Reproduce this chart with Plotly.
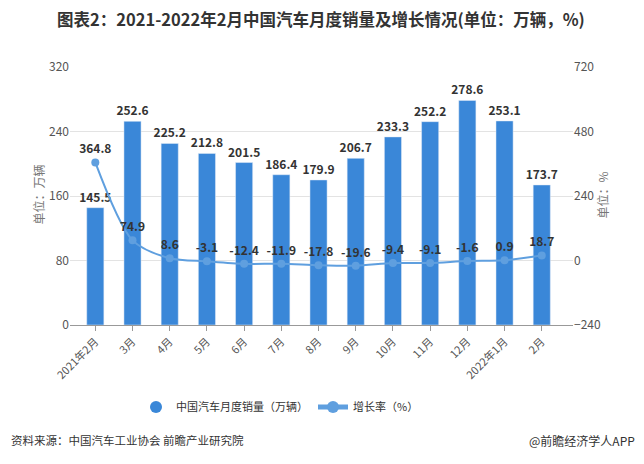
import plotly.graph_objects as go

months = ["2021年2月", "3月", "4月", "5月", "6月", "7月", "8月", "9月", "10月", "11月", "12月", "2022年1月", "2月"]
sales = [145.5, 252.6, 225.2, 212.8, 201.5, 186.4, 179.9, 206.7, 233.3, 252.2, 278.6, 253.1, 173.7]
growth = [364.8, 74.9, 8.6, -3.1, -12.4, -11.9, -17.8, -19.6, -9.4, -9.1, -1.6, 0.9, 18.7]
left_ticks = [0, 80, 160, 240, 320]
right_ticks = [-240, 0, 240, 480, 720]

BAR = "#3a87d8"
LINE = "#5f9fdf"
FONT = "Noto Sans CJK SC"
W, H = 644, 464
OFF = 8  # page offset of the figure inside the browser window
L, R, T, B = 70 - OFF, 573 - OFF, 67 - OFF, 325 - OFF

def px(x):
    return (x - OFF - L) / (R - L)

def py(y):
    return (B - (y - OFF)) / (B - T)

xi = list(range(len(months)))

fig = go.Figure()
fig.add_trace(go.Bar(
    x=xi, y=sales, marker_color=BAR, width=0.46, showlegend=False,
    text=sales, texttemplate="<b>%{y:.1f}</b>", textposition="outside",
    constraintext="none",
    textfont=dict(size=12, color="#333333", family=FONT), cliponaxis=False,
    name="中国汽车月度销量（万辆）"))
fig.add_trace(go.Scatter(
    x=[None], y=[None], mode="markers", name="中国汽车月度销量（万辆）",
    marker=dict(symbol="circle", size=12, color=BAR)))
fig.add_trace(go.Scatter(
    x=xi, y=growth, yaxis="y2", mode="lines+markers+text", name="增长率（%）",
    line=dict(color=LINE, width=2, shape="spline", smoothing=0.8),
    marker=dict(size=8, color=LINE),
    text=growth, texttemplate="<b>%{y:.1f}</b>", textposition="top center",
    textfont=dict(size=12, color="#333333", family=FONT), cliponaxis=False))

fig.update_layout(
    width=W, height=H,
    margin=dict(l=L, r=W - R, t=T, b=H - B, autoexpand=False),
    paper_bgcolor="white", plot_bgcolor="white",
    font=dict(family=FONT, color="#555555", size=12),
    xaxis=dict(range=[-0.68, 12.84], tickmode="array", tickvals=xi, ticktext=months,
               tickangle=-45, showgrid=False, showline=True, linecolor="#999999",
               ticks="outside", ticklen=5, tickcolor="#999999", automargin=False,
               tickfont=dict(size=11, color="#555555")),
    yaxis=dict(range=[0, 320], tickvals=left_ticks, showgrid=True, gridcolor="#e3e3e3",
               zeroline=False, tickfont=dict(size=12, color="#555555"), ticks="",
               showline=False, automargin=False),
    yaxis2=dict(range=[-240, 720], tickvals=right_ticks, overlaying="y", side="right",
                showgrid=False, zeroline=False, automargin=False,
                tickfont=dict(size=12, color="#555555")),
    legend=dict(orientation="h", x=px(136), xanchor="left", y=py(407), yanchor="middle",
                font=dict(size=11, color="#333333"), itemsizing="constant", itemwidth=30),
    bargap=0.5,
)

fig.add_annotation(text="<b>图表2：2021-2022年2月中国汽车月度销量及增长情况(单位：万辆，%)</b>",
                   xref="paper", yref="paper", x=px(321), y=py(19), xanchor="center",
                   yanchor="middle", showarrow=False,
                   font=dict(size=16.5, color="#333333", family=FONT))
fig.add_annotation(text="单位：万辆", xref="paper", yref="paper", x=px(27), y=py(195),
                   textangle=-90, showarrow=False, font=dict(size=12, color="#777777"))
fig.add_annotation(text="单位：%", xref="paper", yref="paper", x=px(612), y=py(195),
                   textangle=-90, showarrow=False, font=dict(size=12, color="#777777"))
fig.add_annotation(text="资料来源：中国汽车工业协会 前瞻产业研究院", xref="paper", yref="paper",
                   x=px(9), y=py(440), xanchor="left", yanchor="middle", showarrow=False,
                   font=dict(size=11.5, color="#333333"))
fig.add_annotation(text="@前瞻经济学人APP", xref="paper", yref="paper",
                   x=px(637), y=py(440), xanchor="right", yanchor="middle", showarrow=False,
                   font=dict(size=12, color="#333333"))

fig.write_html("out.html")
